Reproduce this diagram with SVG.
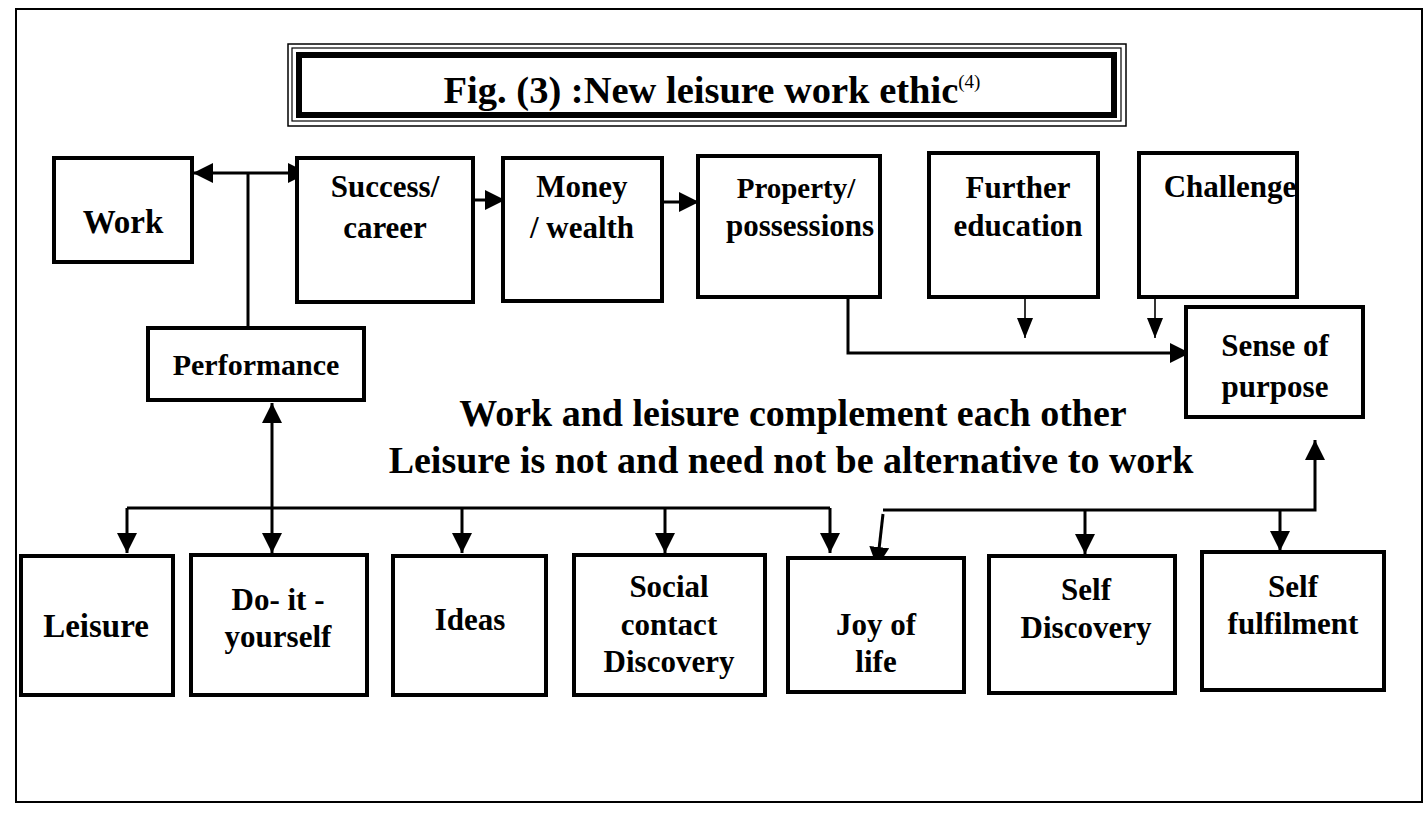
<svg xmlns="http://www.w3.org/2000/svg" width="1427" height="814" viewBox="0 0 1427 814">
<defs>
<style>
.bx{fill:#fff;stroke:#000;stroke-width:4}
.t{font-family:"Liberation Serif","Times New Roman",serif;font-weight:bold;font-size:31px;fill:#000;text-anchor:middle}
.big{font-size:38px}
.ln{fill:none;stroke:#000;stroke-width:3}
.thin{fill:none;stroke:#000;stroke-width:1.6}
</style>
<marker id="ah" viewBox="0 0 20 20" refX="20" refY="10" markerWidth="20" markerHeight="20" markerUnits="userSpaceOnUse" orient="auto-start-reverse">
<path d="M0,0 L20,10 L0,20 z" fill="#000"/>
</marker>
<marker id="ahs" viewBox="0 0 20 16" refX="20" refY="8" markerWidth="20" markerHeight="16" markerUnits="userSpaceOnUse" orient="auto">
<path d="M0,0 L20,8 L0,16 z" fill="#000"/>
</marker>
</defs>
<rect width="1427" height="814" fill="#fff"/>
<rect x="16" y="9" width="1406" height="793" fill="none" stroke="#000" stroke-width="2"/>

<g id="title">
<rect x="288" y="44" width="838" height="82" fill="none" stroke="#000" stroke-width="1.5"/>
<rect x="292" y="48" width="829" height="73" fill="none" stroke="#000" stroke-width="1.2"/>
<rect x="299" y="55" width="815" height="60" fill="none" stroke="#000" stroke-width="6"/>
<text class="t" x="712" y="103" style="font-size:38.5px">Fig. (3) :New leisure work ethic<tspan dy="-15" style="font-size:19px;font-weight:normal">(4)</tspan></text>
</g>

<g id="connectors">
<line class="ln" x1="248" y1="327" x2="248" y2="173"/>
<line class="ln" x1="248" y1="173" x2="193" y2="173" marker-end="url(#ah)"/>
<line class="ln" x1="248" y1="173" x2="308" y2="173" marker-end="url(#ah)"/>
<line class="ln" x1="473" y1="200" x2="505" y2="200" marker-end="url(#ah)"/>
<line class="ln" x1="663" y1="202" x2="699" y2="202" marker-end="url(#ah)"/>
<polyline class="ln" points="848,297 848,353 1190,353" marker-end="url(#ah)"/>
<line class="thin" x1="1025" y1="297" x2="1025" y2="338" marker-end="url(#ahs)"/>
<line class="thin" x1="1155" y1="297" x2="1155" y2="338" marker-end="url(#ahs)"/>
<line class="ln" x1="272" y1="403" x2="272" y2="553" marker-start="url(#ah)" marker-end="url(#ah)"/>
<polyline class="ln" points="127,508 830,508"/>
<line class="ln" x1="127" y1="508" x2="127" y2="553" marker-end="url(#ah)"/>
<line class="ln" x1="462" y1="508" x2="462" y2="553" marker-end="url(#ah)"/>
<line class="ln" x1="665" y1="508" x2="665" y2="553" marker-end="url(#ah)"/>
<polyline class="ln" points="830,508 830,553" marker-end="url(#ah)"/>
<polyline class="ln" points="883,510 1315,510 1315,440" marker-end="url(#ah)"/>
<line class="ln" x1="883" y1="514" x2="877" y2="567" marker-end="url(#ah)"/>
<line class="ln" x1="1085" y1="510" x2="1085" y2="554" marker-end="url(#ah)"/>
<line class="ln" x1="1280" y1="510" x2="1280" y2="551" marker-end="url(#ah)"/>
</g>

<g id="work"><rect class="bx" x="54" y="158" width="138" height="104"/><text class="t" x="123" y="233" style="font-size:33px">Work</text></g>
<g id="success"><rect class="bx" x="297" y="158" width="176" height="144"/><text class="t" x="385" y="197">Success/</text><text class="t" x="385" y="238">career</text></g>
<g id="money"><rect class="bx" x="503" y="158" width="159" height="143"/><text class="t" x="582" y="197">Money</text><text class="t" x="582" y="238">/ wealth</text></g>
<g id="property"><rect class="bx" x="698" y="156" width="182" height="141"/><text class="t" x="796" y="198" style="font-size:29px">Property/</text><text class="t" x="800" y="236">possessions</text></g>
<g id="further"><rect class="bx" x="929" y="153" width="169" height="144"/><text class="t" x="1018" y="198">Further</text><text class="t" x="1018" y="236">education</text></g>
<g id="challenge"><rect class="bx" x="1139" y="153" width="158" height="144"/><text class="t" x="1230" y="197">Challenge</text></g>
<g id="sense"><rect class="bx" x="1186" y="307" width="177" height="110"/><text class="t" x="1275" y="356">Sense of</text><text class="t" x="1275" y="397">purpose</text></g>
<g id="performance"><rect class="bx" x="148" y="328" width="216" height="72"/><text class="t" x="256" y="375" style="font-size:30px">Performance</text></g>

<g id="statement">
<text class="t big" x="793" y="426">Work and leisure complement each other</text>
<text class="t big" x="791" y="473">Leisure is not and need not be alternative to work</text>
</g>

<g id="leisure"><rect class="bx" x="21" y="556" width="152" height="139"/><text class="t" x="96" y="637" style="font-size:33px">Leisure</text></g>
<g id="diy"><rect class="bx" x="191" y="555" width="176" height="140"/><text class="t" x="278" y="610">Do- it -</text><text class="t" x="278" y="647">yourself</text></g>
<g id="ideas"><rect class="bx" x="393" y="556" width="153" height="139"/><text class="t" x="470" y="630">Ideas</text></g>
<g id="social"><rect class="bx" x="574" y="555" width="191" height="140"/><text class="t" x="669" y="597">Social</text><text class="t" x="669" y="635">contact</text><text class="t" x="669" y="672">Discovery</text></g>
<g id="joy"><rect class="bx" x="788" y="558" width="176" height="134"/><text class="t" x="876" y="635">Joy of</text><text class="t" x="876" y="672">life</text></g>
<g id="selfdiscovery"><rect class="bx" x="989" y="556" width="186" height="137"/><text class="t" x="1086" y="600">Self</text><text class="t" x="1086" y="638">Discovery</text></g>
<g id="selffulfilment"><rect class="bx" x="1202" y="552" width="182" height="138"/><text class="t" x="1293" y="597">Self</text><text class="t" x="1293" y="634">fulfilment</text></g>
</svg>
